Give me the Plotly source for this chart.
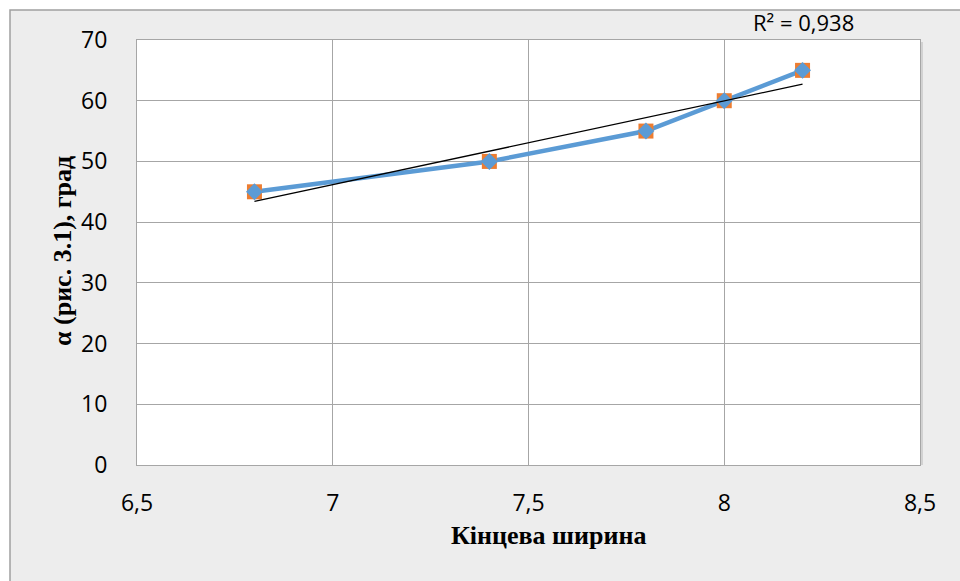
import numpy as np
import plotly.graph_objects as go

# Final width vs. angle alpha
width = [6.8, 7.4, 7.8, 8.0, 8.2]
alpha = [45, 50, 55, 60, 65]

x_ticks = [6.5, 7, 7.5, 8, 8.5]
x_tick_text = ["6,5", "7", "7,5", "8", "8,5"]
y_ticks = [0, 10, 20, 30, 40, 50, 60, 70]

# Linear trend and its coefficient of determination
xa = np.array(width)
ya = np.array(alpha)
slope, intercept = np.polyfit(xa, ya, 1)
fit = slope * xa + intercept
r2 = 1 - np.sum((ya - fit) ** 2) / np.sum((ya - ya.mean()) ** 2)
trend_x = [min(width), max(width)]
trend_y = [slope * v + intercept for v in trend_x]
r2_text = "R² = " + f"{r2:.3f}".replace(".", ",")

W, H = 960, 581
L, R, T, B = 137, 40, 40, 116
pw, ph = W - L - R, H - T - B


def px(xp):
    return (xp - L) / pw


def py(yp):
    return (H - B - yp) / ph


GRID = "#A6A6A6"
TICK_FONT = dict(family="Open Sans", size=23, color="#000000")

fig = go.Figure()

fig.add_trace(go.Scatter(
    x=width, y=alpha, mode="lines+markers",
    line=dict(color="#5B9BD5", width=4.5),
    marker=dict(symbol="square", size=15, color="#ED7D31",
                line=dict(width=0)),
    showlegend=False, hoverinfo="skip",
))
fig.add_trace(go.Scatter(
    x=width, y=alpha, mode="markers",
    marker=dict(symbol="diamond", size=13, color="#5B9BD5",
                line=dict(width=0)),
    showlegend=False,
))
fig.add_trace(go.Scatter(
    x=trend_x, y=trend_y, mode="lines",
    line=dict(color="#000000", width=1.3),
    showlegend=False, hoverinfo="skip",
))

fig.update_layout(
    width=W, height=H,
    margin=dict(l=L, r=R, t=T, b=B),
    paper_bgcolor="#FFFFFF",
    plot_bgcolor="rgba(0,0,0,0)",
    showlegend=False,
    xaxis=dict(
        range=[6.5, 8.5], tickvals=x_ticks, ticktext=x_tick_text,
        showgrid=True, gridcolor=GRID, gridwidth=1,
        showline=True, linecolor=GRID, linewidth=1, mirror=True,
        zeroline=False, ticks="", tickfont=TICK_FONT,
        ticklabelstandoff=17,
    ),
    yaxis=dict(
        range=[0, 70], tickvals=y_ticks,
        showgrid=True, gridcolor=GRID, gridwidth=1,
        showline=True, linecolor=GRID, linewidth=1, mirror=True,
        zeroline=False, ticks="", tickfont=TICK_FONT,
        ticklabelstandoff=24,
    ),
    shapes=[
        # chart frame
        dict(type="rect", xref="paper", yref="paper", layer="below",
             x0=px(10), x1=px(W + 20), y0=py(H + 20), y1=py(10),
             fillcolor="#EDEDED", line=dict(color="#A0A0A0", width=1.5)),
        # plot area
        dict(type="rect", xref="paper", yref="paper", layer="below",
             x0=0, x1=1, y0=0, y1=1,
             fillcolor="#FFFFFF", line=dict(width=0)),
        # shadow on the plot area's right edge
        dict(type="line", xref="paper", yref="paper", layer="below",
             x0=px(922), x1=px(922), y0=0, y1=py(42),
             line=dict(color="#C8C8C8", width=1.5)),
    ],
    annotations=[
        dict(text=r2_text,
             xref="paper", yref="paper", x=px(803), y=py(22),
             xanchor="center", yanchor="middle", showarrow=False,
             font=dict(family="Open Sans", size=22, color="#000000")),
        dict(text="<b>Кінцева ширина</b>", xref="paper", yref="paper",
             x=px(548), y=py(535), xanchor="center", yanchor="middle",
             showarrow=False,
             font=dict(family="Liberation Serif", size=26, color="#000000")),
        dict(text="<b>α (рис. 3.1), град</b>", xref="paper", yref="paper",
             x=px(62), y=py(251), xanchor="center", yanchor="middle",
             textangle=-90, showarrow=False,
             font=dict(family="Liberation Serif", size=26, color="#000000")),
    ],
)

fig.write_html("out.html")
